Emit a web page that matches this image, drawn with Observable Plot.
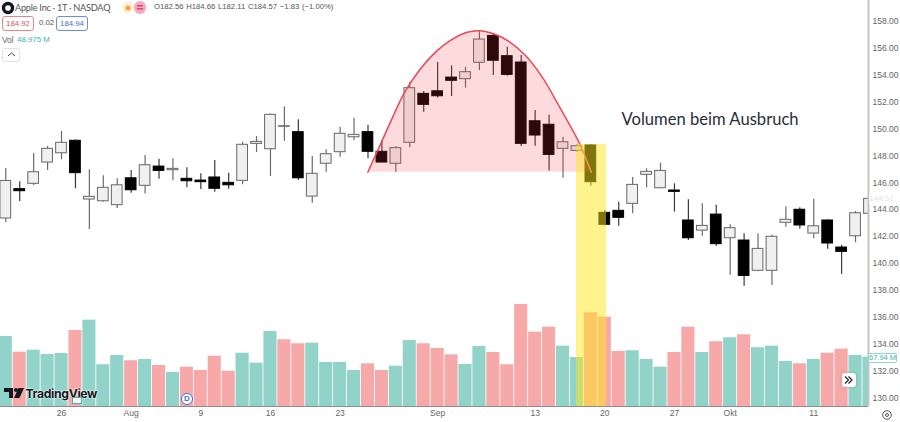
<!DOCTYPE html>
<html><head><meta charset="utf-8">
<script src="https://cdn.jsdelivr.net/npm/d3@7"></script>
<script src="https://cdn.jsdelivr.net/npm/@observablehq/plot@0.6"></script>
<style>
html,body{margin:0;padding:0;background:#fff;width:900px;height:422px;overflow:hidden;}
#wrap{position:relative;width:900px;height:422px;font-family:"Liberation Sans",Arial,sans-serif;color:#555;}
#wrap svg.chart{display:block;}
.o{position:absolute;white-space:nowrap;line-height:1;}
</style></head><body>
<div id="wrap"></div>
<script>
// Daily candles (price, USD)
const opens  = [143.35,145.53,145.93,147.51,148.20,149.13,144.76,144.63,144.34,146.34,145.78,147.21,146.94,146.30,146.17,146.40,146.00,146.15,148.90,148.50,150.17,149.77,144.98,147.42,148.28,149.39,149.77,148.31,147.42,148.98,152.62,152.81,153.83,153.71,154.93,156.93,155.42,154.95,150.58,150.32,148.53,148.38,148.78,143.77,143.92,144.44,146.60,145.60,145.43,143.20,142.45,143.64,141.88,141.71,139.46,139.46,143.03,144.00,142.23,143.20,141.19,142.03,143.70];
const highs  = [147.07,146.08,148.18,148.70,149.82,149.20,146.97,146.52,146.30,146.92,148.03,147.76,147.79,147.12,146.67,147.66,146.72,149.02,149.45,151.13,151.65,150.69,147.96,148.46,150.14,150.81,150.29,149.15,148.70,153.46,152.79,154.95,154.70,154.60,157.33,157.08,156.09,155.47,151.38,151.03,149.39,148.85,148.83,143.94,144.56,146.40,147.04,147.46,145.93,144.74,144.44,144.34,142.88,142.21,142.21,142.11,144.22,144.14,144.78,143.25,141.36,143.87,145.00];
const lows   = [143.05,144.61,145.80,146.92,147.71,145.56,142.53,144.56,144.09,145.23,145.18,146.27,146.15,145.63,145.50,145.30,145.53,145.85,148.26,146.47,149.10,146.17,144.49,146.79,147.91,149.15,147.79,147.51,146.79,148.61,151.25,152.32,152.42,153.04,154.35,153.98,153.93,148.70,148.72,146.89,146.37,148.26,145.75,142.79,142.77,143.70,145.63,145.56,143.82,141.71,142.03,141.26,139.13,138.31,139.38,138.36,142.70,142.55,141.84,141.07,139.18,141.54,143.60];
const closes = [146.14,145.38,146.79,148.53,148.98,146.72,144.96,145.63,145.82,145.45,147.31,146.89,147.04,146.12,146.05,145.56,145.82,148.83,149.05,151.06,150.21,146.34,146.67,148.13,149.65,149.57,148.31,147.51,148.58,153.04,151.80,152.44,153.59,154.23,156.66,155.08,154.03,148.90,149.52,148.08,149.02,148.72,146.05,142.88,143.40,145.85,146.82,146.89,145.33,141.88,142.80,141.44,142.63,139.08,141.09,141.99,143.25,142.83,142.77,141.49,140.87,143.74,144.81];

// Volume (millions of shares) and the direction colour of each volume bar
const volumes = [96.5,74.8,77.6,71.7,73.0,104.7,118.9,57.5,70.3,63.0,64.8,56.5,46.9,54.2,49.6,69.3,48.6,73.4,59.7,103.4,91.9,86.4,87.2,60.6,60.6,49.6,58.8,49.6,55.5,90.9,86.4,79.9,71.2,57.9,82.7,74.4,57.5,140.6,102.4,109.3,83.1,67.5,129.1,123.1,75.8,76.8,64.8,54.2,74.4,109.3,74.4,89.2,94.7,98.8,80.9,83.1,62.0,58.8,64.8,73.4,79.0,70.3,67.94];
const volumeTone = "tptttptttp"+"tptppppttt"+"ppttttpptt"+"pppttppppp"+"ttppptttpp"+"tptptttptp"+"ptt";

// Time axis (trading-day index and its label)
const tickDays   = [4,9,14,19,24,31,38,43,48,52,58];
const tickLabels = ["26","Aug","9","16","23","Sep","13","20","27","Okt","11"];
// Price axis
const priceTicks = [130,132,134,136,138,140,142,144,146,148,150,152,154,156,158];

// Rounded-top outline (trading-day index, price)
const arcDays   = [25.99,27.02,27.85,28.64,29.77,30.85,31.92,33.12,34.08,35.15,36.11,37.31,38.51,39.70,40.66,41.26,42.03];
const arcPrices = [146.79,149.15,151.06,152.74,154.48,155.72,156.59,157.20,157.31,157.03,156.53,155.47,153.86,151.75,149.97,148.78,146.79];
const arcFloor = 146.79;

// Breakout highlight
const highlightDays = [40.97,43.12];
const highlightTop = 148.85;
const noteText = "Volumen beim Ausbruch";
const noteDay = 44.2, notePrice = 150.71;

const volumeFloor = 129.37, volumeToPrice = 0.05397;
const TEAL="#91d2c9", PINK="#f6a9a8";

const days = d3.range(opens.length);
const arc = arcDays.map((d,i)=>({d,p:arcPrices[i]}));
const isUp = i => closes[i] >= opens[i];
const hw = 0.385;

const chart = Plot.plot({
  width:900,height:422,marginLeft:0,marginRight:32,marginTop:0,marginBottom:16,
  style:{background:"#fff",overflow:"hidden"},
  x:{domain:[-0.38,61.93],axis:null},
  y:{domain:[130,158],range:[397.5,21],axis:null},
  marks:[
    Plot.rect(days,{x1:i=>i-0.47,x2:i=>i+0.47,y1:volumeFloor,y2:i=>volumeFloor+volumes[i]*volumeToPrice,
      fill:i=>volumeTone[i]==="t"?TEAL:PINK,clip:true}),
    Plot.ruleX(days,{x:i=>i,y1:i=>lows[i],y2:i=>highs[i],stroke:i=>isUp(i)?"#6b6b6b":"#3a3a3a",strokeWidth:1.2,clip:true}),
    Plot.rect(days,{x1:i=>i-hw,x2:i=>i+hw,y1:i=>opens[i],y2:i=>closes[i],
      fill:i=>isUp(i)?"#f0f0f0":"#000",stroke:i=>isUp(i)?"#666":"#000",strokeWidth:1,clip:true}),
    Plot.areaY(arc,{x:"d",y1:arcFloor,y2:"p",curve:"catmull-rom",fill:"#f23645",fillOpacity:0.18}),
    Plot.line(arc,{x:"d",y:"p",curve:"catmull-rom",stroke:"#e84a5a",strokeWidth:1.5}),
    Plot.rect([0],{x1:highlightDays[0],x2:highlightDays[1],y1:volumeFloor,y2:highlightTop,fill:"#ffe81e",fillOpacity:0.5}),
    Plot.text([noteText],{x:noteDay,y:notePrice,text:d=>d,textAnchor:"start",fontSize:16.6,fontFamily:"Lato",fill:"#2a2e39"}),
    Plot.ruleX([61.93],{stroke:"#c4c4c4",strokeWidth:2}),
    Plot.ruleY([volumeFloor],{stroke:"#8a8a8a",strokeWidth:1}),
    Plot.axisX({anchor:"bottom",ticks:tickDays,tickSize:0,tickPadding:3,tickFormat:d=>tickLabels[tickDays.indexOf(d)],
      fontSize:8.5,fill:"#666",label:null,fontFamily:"Liberation Sans"}),
    Plot.axisY({anchor:"right",ticks:priceTicks,tickSize:0,tickPadding:4,tickFormat:d3.format(".2f"),
      fontSize:8.5,fill:"#666",label:null,fontFamily:"Liberation Sans"})
  ]
});
chart.classList.add("chart");
const wrap=document.getElementById("wrap");
wrap.appendChild(chart);

const overlay = `
<svg class="o" style="left:1px;top:1px" width="14" height="14"><circle cx="7" cy="7" r="6.2" fill="#131722"/><circle cx="7" cy="7" r="2.8" fill="#fff"/></svg>
<div class="o" style="left:15px;top:2.5px;font-size:9.2px;letter-spacing:-.25px;color:#555;font-family:Lato,sans-serif">Apple Inc · 1T · NASDAQ</div>
<svg class="o" style="left:122px;top:1px" width="24" height="13"><circle cx="6" cy="6.5" r="6" fill="#fdf0d8"/><circle cx="6" cy="7" r="2.6" fill="#f5a63a"/><rect x="12" y="0" width="12" height="13" rx="6" fill="#f9a8c0"/><rect x="15" y="4" width="6" height="1.5" fill="#d64a7a"/><rect x="15" y="7" width="6" height="1.5" fill="#d64a7a"/></svg>
<div class="o" style="left:154px;top:3px;font-size:7.7px;color:#555;word-spacing:.6px">O182.56 H184.66 L182.11 C184.57 −1.83 (−1.00%)</div>
<div class="o" style="left:2px;top:16px;width:30px;height:13px;border:1px solid #e8838d;border-radius:3px;color:#d9535f;font-size:7.8px;text-align:center;line-height:13px">184.92</div>
<div class="o" style="left:39px;top:19px;font-size:7.8px;color:#555">0.02</div>
<div class="o" style="left:56px;top:16px;width:30px;height:13px;border:1px solid #6e8fe0;border-radius:3px;color:#4a6fd0;font-size:7.8px;text-align:center;line-height:13px">184.94</div>
<div class="o" style="left:2px;top:36px;font-size:8.4px;color:#666">Vol</div>
<div class="o" style="left:17px;top:36px;font-size:7.9px;color:#3fb59f">48.975 M</div>
<div class="o" style="left:2px;top:48px;width:16px;height:12px;border:1px solid #e3e3e3;border-radius:3px;background:#fff"></div>
<svg class="o" style="left:7px;top:52px" width="9" height="5"><path d="M1 4L4.5 1L8 4" stroke="#444" stroke-width="1" fill="none"/></svg>
<svg class="o" style="left:4px;top:388px" width="20" height="12"><path d="M0 0H9V10H5V4H0Z M14.5 0H20L15.5 10H10Z" fill="#131722"/><circle cx="12" cy="2" r="2" fill="#131722"/></svg>
<div class="o" style="left:25.5px;top:387.5px;font-size:12.2px;font-weight:700;color:#131722;font-family:Inter,sans-serif;letter-spacing:-.35px;text-shadow:0 0 2px #fff,0 0 2px #fff">TradingView</div>
<div class="o" style="left:72px;top:397px;width:8px;height:5px;background:#fff;border:1px solid #3fb59f"></div>
<div class="o" style="left:181px;top:393px;width:10px;height:10px;border:1.3px solid #3d6fe0;border-radius:50%;background:#fff;color:#3d6fe0;font-size:8px;text-align:center;line-height:10px;font-weight:700">D</div>
<div class="o" style="left:842px;top:373px;width:14px;height:14px;background:#fff;border-radius:3px;box-shadow:0 0 3px rgba(0,0,0,.2)"></div>
<svg class="o" style="left:844px;top:376px" width="9" height="8"><path d="M1 .5L4.5 4L1 7.5M4.5 .5L8 4L4.5 7.5" stroke="#222" stroke-width="1.2" fill="none"/></svg>
<div class="o" style="left:868px;top:352.5px;width:27px;height:8.5px;border:1px solid #8fd6c6;border-radius:2px;background:#fff;color:#3fb59f;font-size:7.5px;text-align:center;line-height:8.5px">67.94 M</div>
<div class="o" style="left:869px;top:194px;width:25px;height:10px;background:#fff;color:#e4e4e4;font-size:8px;text-align:center;line-height:10px">144.57</div>
<svg class="o" style="left:881px;top:409px" width="12" height="12"><circle cx="6" cy="6" r="4.3" stroke="#555" stroke-width="1" fill="none"/><circle cx="6" cy="6" r="1.5" stroke="#555" stroke-width="1" fill="none"/></svg>
`;
wrap.insertAdjacentHTML("beforeend",overlay);
</script>
</body></html>
